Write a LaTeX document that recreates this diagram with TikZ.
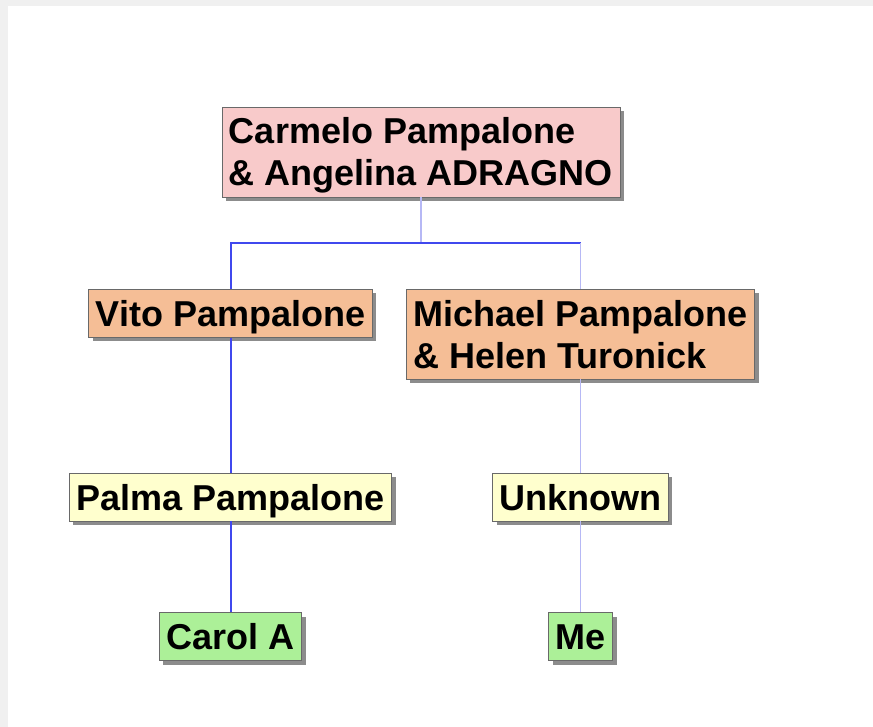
\documentclass[tikz,border=0pt]{standalone}
\usepackage{fontspec}
\setmainfont{Liberation Sans}
\usetikzlibrary{shadows}
\definecolor{pinkfill}{RGB}{248,202,202}
\definecolor{orangefill}{RGB}{245,190,150}
\definecolor{yellowfill}{RGB}{255,255,206}
\definecolor{greenfill}{RGB}{172,240,152}
\definecolor{boxline}{RGB}{105,105,105}
\definecolor{darkline}{RGB}{64,72,238}
\definecolor{lightline}{RGB}{182,184,245}
\definecolor{bggray}{RGB}{240,240,240}
\begin{document}
\begin{tikzpicture}[x=1pt,y=-1pt,
  person/.style={draw=boxline, line width=0.9pt, inner xsep=7pt, inner ysep=11pt,
    text height=26pt, text depth=0pt, font=\fontsize{36}{42}\selectfont\bfseries,
    drop shadow={shadow xshift=4pt, shadow yshift=-4pt, fill=black, opacity=0.45}},
  twoline/.style={person, text height=68pt},
  gen1/.style={fill=pinkfill},
  gen2/.style={fill=orangefill},
  gen3/.style={fill=yellowfill},
  gen4/.style={fill=greenfill},
  mainlink/.style={draw=darkline, line width=2pt},
  sidelink/.style={draw=lightline, line width=1.6pt}]
\useasboundingbox (0,0) rectangle (873,727);
\fill[bggray] (0,0) rectangle (873,727);
\fill[white] (8,6) rectangle (873,727);

\node[twoline, gen1] (top) at (421,152) {\vbox{\hbox{Carmelo Pampalone}\hbox{\& Angelina ADRAGNO}}};
\node[person, gen2] (vito) at (230.5,313.5) {Vito Pampalone};
\node[twoline, gen2] (michael) at (580.5,334) {\vbox{\hbox{Michael Pampalone}\hbox{\& Helen Turonick}}};
\node[person, gen3] (palma) at (230.5,497) {Palma Pampalone};
\node[person, gen3] (unknown) at (580.5,497) {Unknown};
\node[person, gen4] (carol) at (230.5,636.5) {Carol A};
\node[person, gen4] (me) at (580.5,636.5) {Me};

\coordinate (j) at (421,243);
\draw[sidelink] (top.south) -- (top.south |- j);
\draw[mainlink] (vito.north) |- (michael.north |- j);
\draw[sidelink] (michael.north |- j) -- (michael.north);
\draw[mainlink] (vito.south) -- (palma.north);
\draw[mainlink] (palma.south) -- (carol.north);
\draw[sidelink] (michael.south) -- (unknown.north);
\draw[sidelink] (unknown.south) -- (me.north);
\end{tikzpicture}
\end{document}
